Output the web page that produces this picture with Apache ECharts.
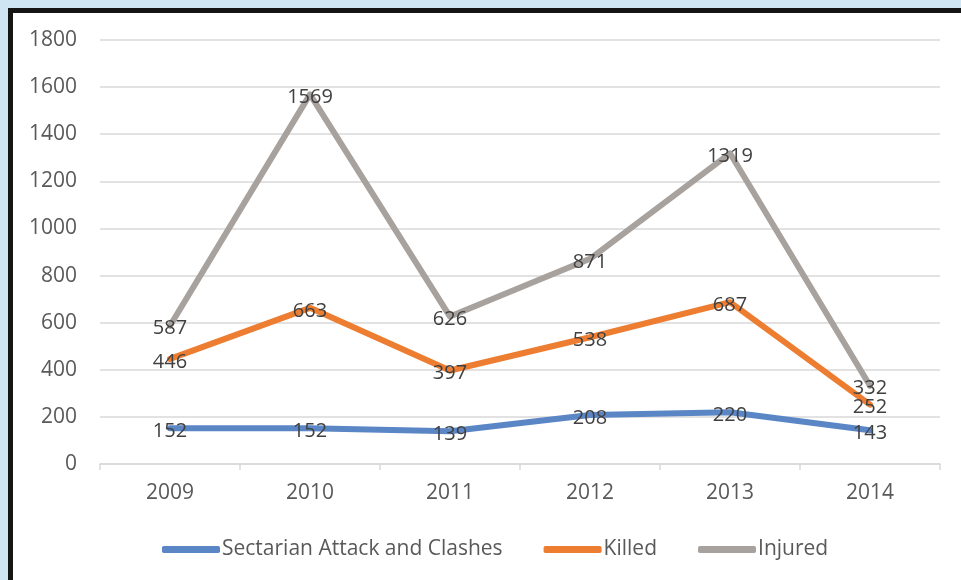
<!DOCTYPE html>
<html>
<head>
<meta charset="utf-8">
<script src="https://cdn.jsdelivr.net/npm/echarts@6/dist/echarts.min.js"></script>
<style>
html,body{margin:0;padding:0;width:961px;height:580px;overflow:hidden;background:#cfe5f4;}
#frame{position:absolute;left:8px;top:8px;width:960px;height:580px;background:#fff;border-left:5px solid #151515;border-top:5px solid #151515;box-sizing:border-box;}
#chart{position:absolute;left:0;top:0;width:961px;height:580px;}
</style>
</head>
<body>
<div id="frame"></div>
<div id="chart"></div>
<script>
var categories = ['2009', '2010', '2011', '2012', '2013', '2014'];
var sectarian = [152, 152, 139, 208, 220, 143];
var killed = [446, 663, 397, 538, 687, 252];
var injured = [587, 1569, 626, 871, 1319, 332];
var seriesNames = ['Sectarian Attack and Clashes', 'Killed', 'Injured'];
var yTicks = {min: 0, max: 1800, interval: 200};

var colors = ['#5b86c5', '#ed7d31', '#a8a29e'];
var font = '"Open Sans", sans-serif';

var chart = echarts.init(document.getElementById('chart'), null, {renderer: 'canvas'});

function mkSeries(name, data, color) {
  return {
    name: name,
    type: 'line',
    data: data,
    symbol: 'circle',
    symbolSize: 2,
    showSymbol: true,
    showAllSymbol: true,
    lineStyle: {color: color, width: 6, cap: 'round', join: 'round'},
    itemStyle: {color: color},
    label: {
      show: true,
      position: [1, 4],
      align: 'center',
      verticalAlign: 'middle',
      color: '#404040',
      fontFamily: font,
      fontSize: 20
    },
    labelLayout: {hideOverlap: false},
    emphasis: {disabled: true},
    animation: false
  };
}

chart.setOption({
  backgroundColor: 'transparent',
  animation: false,
  color: colors,
  grid: {left: 100, right: 21, top: 40, bottom: 116, containLabel: false},
  legend: {
    data: seriesNames,
    bottom: 15,
    left: 157,
    itemWidth: 58,
    itemHeight: 7,
    itemGap: 41,
    icon: 'roundRect',
    itemStyle: {opacity: 1},
    textStyle: {color: '#595959', fontFamily: font, fontSize: 21, padding: [0, 0, 0, -3]}
  },
  xAxis: {
    type: 'category',
    data: categories,
    boundaryGap: true,
    axisLine: {lineStyle: {color: '#d9d9d9', width: 1.5}},
    axisTick: {show: true, length: 6, lineStyle: {color: '#d9d9d9', width: 1.5}},
    axisLabel: {color: '#595959', fontFamily: font, fontSize: 21, margin: 19}
  },
  yAxis: {
    type: 'value',
    min: yTicks.min,
    max: yTicks.max,
    interval: yTicks.interval,
    axisLine: {show: false},
    axisTick: {show: false},
    axisLabel: {color: '#595959', fontFamily: font, fontSize: 21, margin: 23, formatter: function (v) { return String(v); }},
    splitLine: {lineStyle: {color: '#d9d9d9', width: 1.5}}
  },
  series: [
    mkSeries(seriesNames[0], sectarian, colors[0]),
    mkSeries(seriesNames[1], killed, colors[1]),
    mkSeries(seriesNames[2], injured, colors[2])
  ]
});
</script>
</body>
</html>
